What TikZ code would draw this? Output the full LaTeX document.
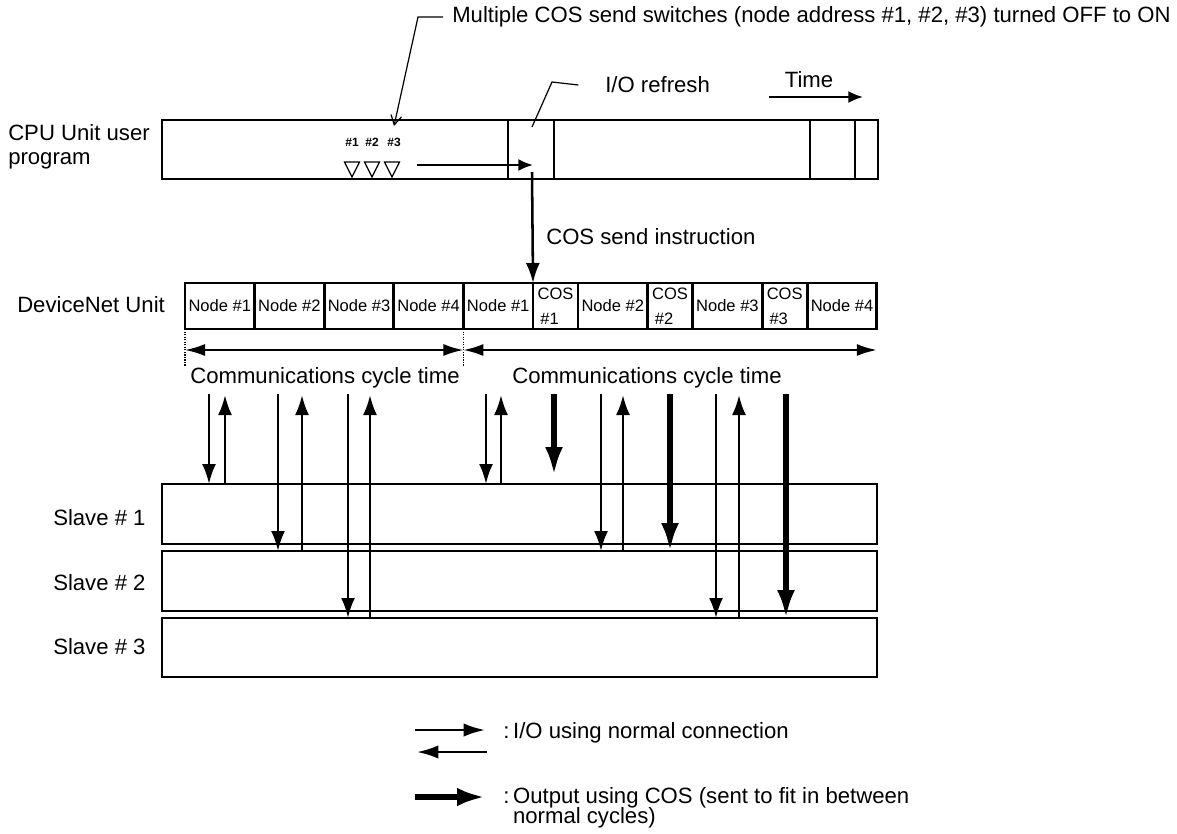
\documentclass[tikz,border=0pt]{standalone}
\usepackage{fontspec}
\setmainfont{Liberation Sans}
\usetikzlibrary{positioning,arrows.meta}

\begin{document}
\begin{tikzpicture}[
      x=0.75pt, y=-0.75pt,
      font=\fontsize{16.6}{18}\selectfont,
      node distance=0pt,
      cell/.style={draw, line width=2.1pt, inner sep=0pt, outer sep=0pt, anchor=north west},
      cpucell/.style={cell, minimum height=44.25pt},
      netcell/.style={cell, minimum width=52.2pt, minimum height=34.5pt, font=\fontsize{12.4}{14}\selectfont},
      coscell/.style={cell, minimum width=33.75pt, minimum height=34.5pt, align=left, font=\fontsize{12.4}{18.5}\selectfont},
      slave/.style={cell, minimum width=536.25pt, minimum height=45pt},
      lbl/.style={anchor=west, inner sep=0pt, align=left},
      callout/.style={line width=0.9pt},
      ioarrow/.style={-{Latex[length=15pt, width=10.5pt]}, line width=1.9pt},
      cosarrow/.style={-{Latex[length=21pt, width=13.5pt]}, line width=4pt},
      cyclearrow/.style={{Latex[length=15pt, width=9pt]}-{Latex[length=15pt, width=9pt]}, line width=1.5pt},
      smallarrow/.style={-{Latex[length=11pt, width=9pt]}, line width=1.6pt}
    ]
      \useasboundingbox (0,0) rectangle (1177,833);

      \node[lbl] (cpulbl) at (8,147) {CPU Unit user\\program};
      \node[cpucell, minimum width=259.5pt] (prog) at (162,120) {};
      \node[cpucell, minimum width=34.5pt, right=of prog] (refresh) {};
      \node[cpucell, minimum width=192pt, right=of refresh] (prog2) {};
      \node[cpucell, minimum width=33.75pt, right=of prog2] (refresh2) {};
      \node[cpucell, minimum width=17.25pt, right=of refresh2] (prog3) {};

      \node[lbl] (swtext) at (452,17) {Multiple COS send switches (node address \#1, \#2, \#3) turned OFF to ON};
      \node[lbl] (iotext) at (605,85) {I/O refresh};
      \node (time) at (809,80) {Time};
      \node[lbl] (costext) at (546,237) {COS send instruction};

      \foreach \x [count=\i] in {352,372,394}
        \node[font=\bfseries\fontsize{9}{10}\selectfont, inner sep=0pt] (sw\i) at (\x,142) {\#\i};
      \foreach \x in {352,372,392}
        \draw[line width=0.9pt] (\x-7.5,162) -- (\x+7.5,162) -- (\x,177) -- cycle;

      \coordinate (swknee) at (418,17);
      \coordinate (swtip) at (394,126);
      \coordinate (ioknee) at (552,82);
      \coordinate (iotip) at (532,127);
      \coordinate (timeA) at (769,97);
      \coordinate (timeB) at (863,97);
      \coordinate (swarrow) at (417,165);
      \coordinate (cosstart) at (532,172);

      \draw[callout, -{Straight Barb[length=7pt, width=8pt]}] ([xshift=-6.75pt]swtext.west) -- (swknee) -- (swtip);
      \draw[callout] ([xshift=-20pt]iotext.west) -- (ioknee) -- (iotip);
      \draw[smallarrow] (timeA) -- (timeB);

      \node[lbl] (netlbl) at (17,305) {DeviceNet Unit};
      \node[netcell] (n1) at (185,283) {Node \#1};
      \node[netcell, right=of n1] (n2) {Node \#2};
      \node[netcell, right=of n2] (n3) {Node \#3};
      \node[netcell, right=of n3] (n4) {Node \#4};
      \node[netcell, right=of n4] (m1) {Node \#1};
      \node[coscell, right=of m1] (c1) {COS\\\,\#1};
      \node[netcell, right=of c1] (m2) {Node \#2};
      \node[coscell, right=of m2] (c2) {COS\\\,\#2};
      \node[netcell, right=of c2] (m3) {Node \#3};
      \node[coscell, right=of m3] (c3) {COS\\\,\#3};
      \node[netcell, right=of c3] (m4) {Node \#4};

      \draw[smallarrow] (swarrow) -- (swarrow -| c1.north west);
      \draw[ioarrow] (cosstart) -- (c1.north west);

      \coordinate (cyc) at (0,350);
      \draw[densely dotted, line width=0.9pt] (n1.south west) -- ++(0,37);
      \draw[densely dotted, line width=0.9pt] (n4.south east) -- ++(0,37);
      \draw[cyclearrow] (n1.south west |- cyc) -- (n4.south east |- cyc);
      \draw[cyclearrow] (n4.south east |- cyc) -- (m4.south east |- cyc);
      \node (cyc1) at (325,378) {Communications cycle time};
      \node[lbl] (cyc2) at (512,378) {Communications cycle time};

      \node[lbl] (s1lbl) at (53,518) {Slave \# 1};
      \node[lbl] (s2lbl) at (53,583) {Slave \# 2};
      \node[lbl] (s3lbl) at (53,647) {Slave \# 3};
      \node[slave] (slave1) at (162,484) {};
      \node[slave] (slave2) at (162,551) {};
      \node[slave, minimum height=44.25pt] (slave3) at (162,618) {};

      \foreach \x/\s in {209/slave1, 278/slave2, 348/slave3, 486/slave1, 601/slave2, 716/slave3} {
        \coordinate (dn) at (\x,394);
        \draw[ioarrow] (dn) -- (dn |- \s.north);
      }
      \foreach \x/\s in {225/slave1, 302/slave2, 370/slave3, 501/slave1, 623/slave2, 739/slave3} {
        \coordinate (up) at (\x,395);
        \draw[ioarrow] (up |- \s.north) -- (up);
      }
      \coordinate (cosfree) at (554,394);
      \coordinate (cosend) at (554,475);
      \draw[cosarrow] (cosfree) -- (cosend);
      \foreach \x/\s in {670/slave2, 786/slave3} {
        \coordinate (dn) at (\x,394);
        \draw[cosarrow] (dn) -- (dn |- \s.north);
      }

      \coordinate (legA) at (415,730);
      \coordinate (legB) at (485,730);
      \coordinate (legC) at (487,752);
      \coordinate (legD) at (417,752);
      \coordinate (legE) at (415,797);
      \coordinate (legF) at (485,797);
      \draw[-{Latex[length=16pt, width=10pt]}, line width=1.8pt] (legA) -- (legB);
      \draw[-{Latex[length=16pt, width=10pt]}, line width=1.8pt] (legC) -- (legD);
      \draw[-{Latex[length=21pt, width=14pt]}, line width=4.5pt] (legE) -- (legF);
      \node[lbl] (legio) at (503,733) {:\,I/O using normal connection};
      \node[lbl, anchor=north west, font=\fontsize{16.6}{15.5}\selectfont] (legcos) at (503,787) {:\,Output using COS (sent to fit in between\\\phantom{:\,}normal cycles)};
    \end{tikzpicture}
\end{document}
